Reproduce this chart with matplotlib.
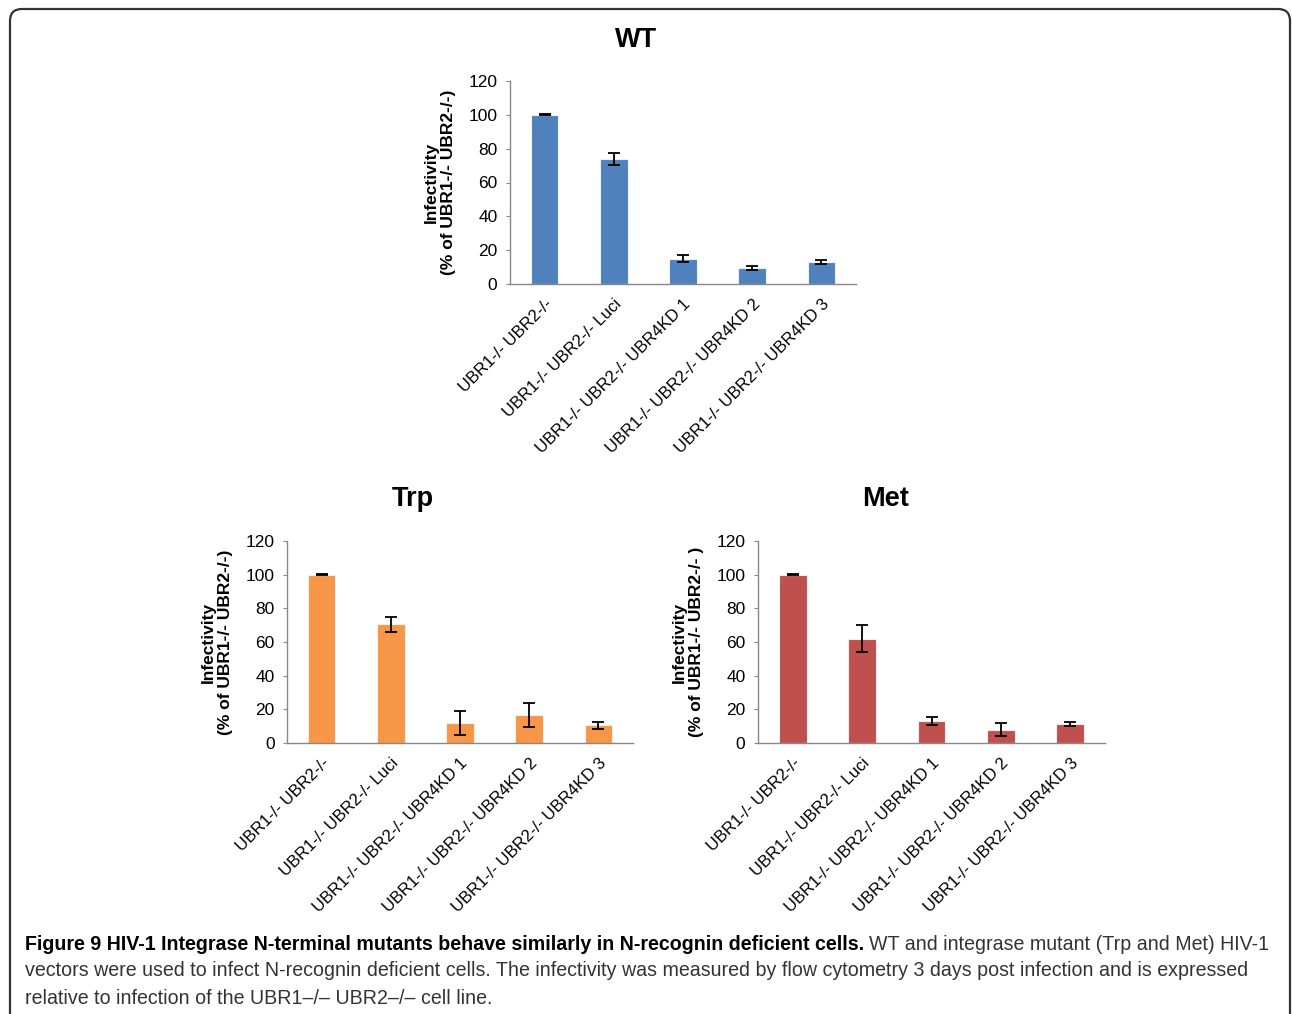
import matplotlib
matplotlib.use("Agg")
import matplotlib.pyplot as plt
from matplotlib.patches import FancyBboxPatch
import numpy as np

categories = ["UBR1-/- UBR2-/-", "UBR1-/- UBR2-/- Luci", "UBR1-/- UBR2-/- UBR4KD 1",
              "UBR1-/- UBR2-/- UBR4KD 2", "UBR1-/- UBR2-/- UBR4KD 3"]
wt_values = [100, 74, 15, 9.5, 13]
wt_errors = [0.3, 3.5, 2.2, 1.0, 1.3]
trp_values = [100, 70.5, 12, 16.5, 10.5]
trp_errors = [0.3, 4.3, 7.3, 7.0, 2.0]
met_values = [100, 62, 13, 8, 11.5]
met_errors = [0.3, 8.0, 2.5, 4.0, 1.2]
yticks = [0, 20, 40, 60, 80, 100, 120]

W, H = 1292, 1014
fig = plt.figure(figsize=(W / 100, H / 100), dpi=100)
FONT = ["Liberation Sans", "DejaVu Sans"]

def px(x, y):
    return x / W, 1 - y / H

panels = [
    ("WT", wt_values, wt_errors, "#4F81BD", (510, 81, 856, 284),
     "Infectivity\n(% of UBR1-/- UBR2-/-)", (636, 40)),
    ("Trp", trp_values, trp_errors, "#F79646", (287, 541, 633, 743),
     "Infectivity\n(% of UBR1-/- UBR2-/-)", (413, 499)),
    ("Met", met_values, met_errors, "#C0504D", (758, 541, 1105, 743),
     "Infectivity\n(% of UBR1-/- UBR2-/- )", (886, 499)),
]

for title, vals, errs, color, (x0, y0, x1, y1), ylab, (tx, ty) in panels:
    l, t = px(x0, y0)
    r, b = px(x1, y1)
    ax = fig.add_axes([l, b, r - l, t - b])
    x = np.arange(len(categories))
    ax.bar(x, vals, width=0.4, color=color, edgecolor="#f0f0f0", linewidth=0.8,
           yerr=errs, error_kw=dict(ecolor="black", elinewidth=1.3, capsize=4, capthick=1.3))
    ax.set_xlim(-0.5, len(categories) - 0.5)
    ax.set_ylim(0, 120)
    ax.set_yticks(yticks)
    ax.set_yticklabels([str(v) for v in yticks], family=FONT, fontsize=12.5)
    ax.set_xticks(x)
    ax.set_xticklabels(categories, rotation=45, ha="right", va="top",
                       rotation_mode="anchor", family=FONT, fontsize=12)
    ax.tick_params(axis="x", length=0, pad=9)
    ax.tick_params(axis="y", length=3, width=0.8, color="#888888", pad=6)
    for s in ("top", "right"):
        ax.spines[s].set_visible(False)
    for s in ("left", "bottom"):
        ax.spines[s].set_color("#888888")
        ax.spines[s].set_linewidth(1.0)
    ax.set_ylabel(ylab, family=FONT, fontsize=12.5, fontweight="bold",
                  labelpad=9, linespacing=1.15)
    fx, fy = px(tx, ty)
    fig.text(fx, fy, title, ha="center", va="center", family=FONT,
             fontsize=19.5, fontweight="bold")

# rounded frame
box = FancyBboxPatch((0.10, -0.5), 12.80, 10.05 + 0.5,
                     boxstyle="round,pad=0,rounding_size=0.12",
                     transform=fig.dpi_scale_trans, fill=False,
                     edgecolor="#333333", linewidth=1.6, clip_on=False)
fig.add_artist(box)

CAP = ["Liberation Sans", "DejaVu Sans"]
cap_size = 14.1
bx, by = px(25, 944)
bold = fig.text(bx, by, "Figure 9 HIV-1 Integrase N-terminal mutants behave similarly in N-recognin deficient cells.",
                family=CAP, fontsize=cap_size, fontweight="bold", ha="left", va="center")
fig.canvas.draw()
bb = bold.get_window_extent(fig.canvas.get_renderer())
fig.text((bb.x1 + 5) / W, by, "WT and integrase mutant (Trp and Met) HIV-1",
         family=CAP, fontsize=cap_size, ha="left", va="center", color="#333333")
l2x, l2y = px(25, 971)
fig.text(l2x, l2y, "vectors were used to infect N-recognin deficient cells. The infectivity was measured by flow cytometry 3 days post infection and is expressed",
         family=CAP, fontsize=cap_size, ha="left", va="center", color="#333333")
l3x, l3y = px(25, 998)
fig.text(l3x, l3y, "relative to infection of the UBR1\u2013/\u2013 UBR2\u2013/\u2013 cell line.",
         family=CAP, fontsize=cap_size, ha="left", va="center", color="#333333")

fig.savefig("out.png", dpi=100)
